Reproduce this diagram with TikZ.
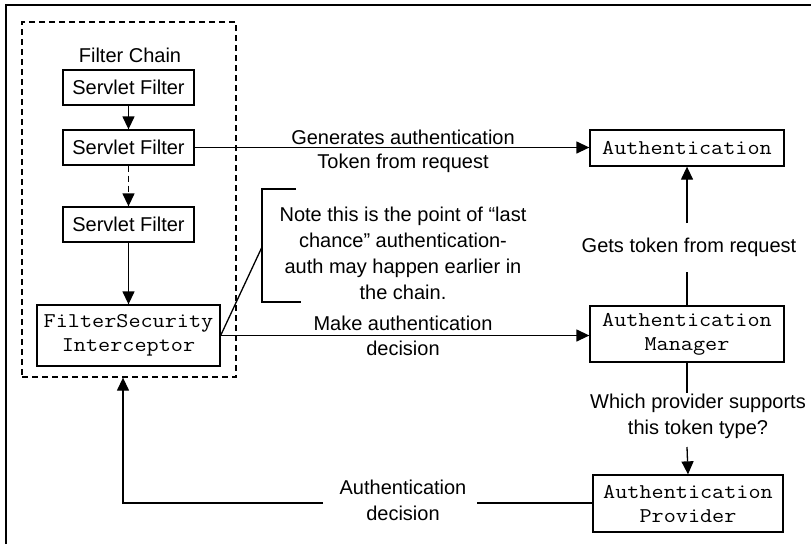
\documentclass[tikz,border=0pt]{standalone}
\usepackage{fontspec}
\setmainfont{Liberation Sans}
\setmonofont[FakeStretch=1.12]{Latin Modern Mono}
\usetikzlibrary{arrows.meta}
\begin{document}
\begin{tikzpicture}[x=1pt,y=-1pt,
  lw/.style={line width=1.3pt},
  sfbox/.style={draw,lw,minimum width=131pt,minimum height=35pt,inner sep=0pt,font=\fontsize{20}{24}\selectfont},
  mbox/.style={draw,lw,inner sep=0pt,align=center,font=\ttfamily\fontsize{21}{24}\selectfont},
  lbl/.style={inner sep=0pt,align=center,font=\fontsize{20}{26}\selectfont},
  arr/.style={lw,-{Triangle[length=13pt,width=12pt]}},
]
\useasboundingbox (0,0) rectangle (811,544);
% frame (top and left edges only)
\draw[line width=1.8pt] (6,544) -- (6,5) -- (811,5);
% filter chain dashed container
\node[draw,lw,dashed,dash pattern=on 6pt off 4pt,minimum width=214pt,minimum height=355pt,inner sep=0pt] (chain) at (129,199.5) {};
\node[lbl] (chainlbl) at (130,55) {Filter Chain};
% servlet filters
\node[sfbox] (sf1) at (128.5,87.5) {Servlet Filter};
\node[sfbox] (sf2) at (128.5,147.5) {Servlet Filter};
\node[sfbox] (sf3) at (128.5,224.5) {Servlet Filter};
\node[mbox,minimum width=183pt,minimum height=61pt] (fsi) at (128.5,335.5) {FilterSecurity\\Interceptor};
% right column
\node[mbox,minimum width=194pt,minimum height=36pt] (auth) at (687,148) {Authentication};
\node[mbox,minimum width=194pt,minimum height=56pt] (mgr) at (687,334) {Authentication\\Manager};
\node[mbox,minimum width=190pt,minimum height=57pt] (prov) at (688,503.5) {Authentication\\Provider};
% chain arrows
\draw[arr] (sf1.south) -- (sf2.north);
\draw[arr,dashed,dash pattern=on 6pt off 4pt] (sf2.south) -- (sf3.north);
\draw[arr] (sf3.south) -- (fsi.north);
% generates token
\draw[arr] (sf2.east) -- (auth.west |- sf2.east);
\node[lbl] (gen1) at (403,137) {Generates authentication};
\node[lbl] (gen2) at (403,163) {Token from request};
% make decision
\draw[arr] (fsi.east) -- (mgr.west |- fsi.east);
\node[lbl] (mk1) at (403,323) {Make authentication};
\node[lbl] (mk2) at (403,348) {decision};
% gets token
\node[lbl] (gets) at (689,247) {Gets token from request};
\coordinate (g1) at (687,272);
\coordinate (g2) at (687,223);
\draw[lw] (mgr.north) -- (g1);
\draw[arr] (g2) -- (auth.south);
% which provider
\node[lbl] (which) at (698,416) {Which provider supports\\this token type?};
\coordinate (w1) at (687,393);
\coordinate (w2) at (687,447);
\draw[lw] (mgr.south) -- (w1);
\draw[arr] (w2) -- (prov.north);
% authentication decision back
\node[lbl] (dec) at (403,500) {Authentication\\decision};
\coordinate (d1) at (477,503);
\coordinate (d2) at (323,503);
\coordinate (d3) at (123,503);
\draw[lw] (prov.west |- d1) -- (d1);
\draw[arr] (d2) -- (d3) -- (d3 |- chain.south);
% note
\coordinate (nt) at (296,189);
\coordinate (nb) at (301,302);
\coordinate (nm) at (262,247);
\draw[lw] (nt) -- (262,189) -- (262,302) -- (nb);
\draw[lw] (nm) -- (fsi.east);
\node[lbl] (note) at (403,253) {Note this is the point of “last\\chance” authentication-\\auth may happen earlier in\\the chain.};
\end{tikzpicture}
\end{document}
